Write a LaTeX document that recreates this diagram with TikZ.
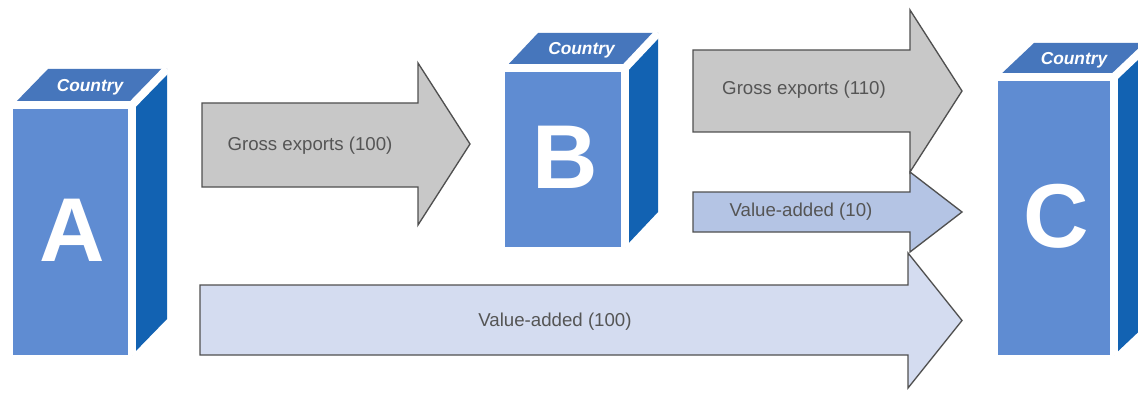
\documentclass[tikz,border=0pt]{standalone}
\usepackage{fontspec}
\setmainfont{Liberation Sans}
\usetikzlibrary{calc}
\definecolor{frontblue}{RGB}{95,140,210}
\definecolor{topblue}{RGB}{70,118,188}
\definecolor{sideblue}{RGB}{18,98,178}
\definecolor{arrgrey}{RGB}{200,200,200}
\definecolor{arrline}{RGB}{80,80,80}
\definecolor{vablue}{RGB}{180,196,228}
\definecolor{valight}{RGB}{212,220,240}
\definecolor{txtgrey}{RGB}{85,85,85}

% cube: name, cx, cy, w, h, dx, dy, letter
\newcommand\countrycube[8]{%
  \node[frontface, minimum width=#4*0.75pt, minimum height=#5*0.75pt] (#1) at (#2,#3) {};
  \fill[topblue] (#1.north west) -- (#1.north east) -- ++(#6,#7) -- ([shift={(#6,#7)}]#1.north west) -- cycle;
  \fill[sideblue] (#1.north east) -- (#1.south east) -- ++(#6,#7) -- ([shift={(#6,#7)}]#1.north east) -- cycle;
  \draw[sepline] (#1.north west) -- (#1.north east) -- (#1.south east);
  \draw[sepline] (#1.north east) -- ++(#6,#7);
  \node[toplabel] (#1-top) at ($(#1.north)+(#6/2,#7/2)$) {Country};
  \node[bigletter] (#1-letter) at (#1.center) {#8};
}
% block arrow: style, x0, xbase, shaft top, shaft bottom, head top, head bottom, tip x
\newcommand\blockarrow[8]{%
  \draw[#1] (#2,#4) -- (#3,#4) -- (#3,#6) -- (#8,{(#6+#7)/2}) -- (#3,#7) -- (#3,#5) -- (#2,#5) -- cycle;
}

\begin{document}
\begin{tikzpicture}[x=0.75pt,y=-0.75pt,
  frontface/.style={fill=frontblue, draw=none, inner sep=0pt, outer sep=0pt, rectangle},
  sepline/.style={draw=white, line width=6pt},
  toplabel/.style={text=white, font=\fontsize{13}{13}\selectfont\bfseries\itshape, inner sep=0pt},
  bigletter/.style={text=white, font=\fontsize{68}{68}\selectfont\bfseries, inner sep=0pt},
  greyarrow/.style={fill=arrgrey, draw=arrline, line width=1pt, line join=miter},
  vaarrow/.style={fill=vablue, draw=arrline, line width=1pt, line join=miter},
  valarrow/.style={fill=valight, draw=arrline, line width=1pt, line join=miter},
  arrlabel/.style={text=txtgrey, font=\fontsize{14}{14}\selectfont, inner sep=0pt}]
\path[use as bounding box] (0,0) rectangle (1138,406);
\clip (0,0) rectangle (1138,406);
\fill[white] (0,0) rectangle (1138,406);

\countrycube{A}{72.5}{230}{119}{250}{35}{-36}{A}
\countrycube{B}{565}{157.5}{120}{179}{33}{-35}{B}
\countrycube{C}{1056}{216}{116}{278}{36}{-34}{C}

\blockarrow{greyarrow}{202}{418}{103}{187}{63}{225}{470}
\blockarrow{greyarrow}{693}{910}{50}{132}{10}{172}{962}
\blockarrow{vaarrow}{693}{910}{192}{232}{172}{252}{962}
\blockarrow{valarrow}{200}{908}{285}{355}{253}{388}{962}

\node[arrlabel] (gx100) at (310,146) {Gross exports (100)};
\node[arrlabel] (gx110) at (804,90) {Gross exports (110)};
\node[arrlabel] (va10) at (801,212) {Value-added (10)};
\node[arrlabel] (va100) at (555,322) {Value-added (100)};
\end{tikzpicture}
\end{document}
